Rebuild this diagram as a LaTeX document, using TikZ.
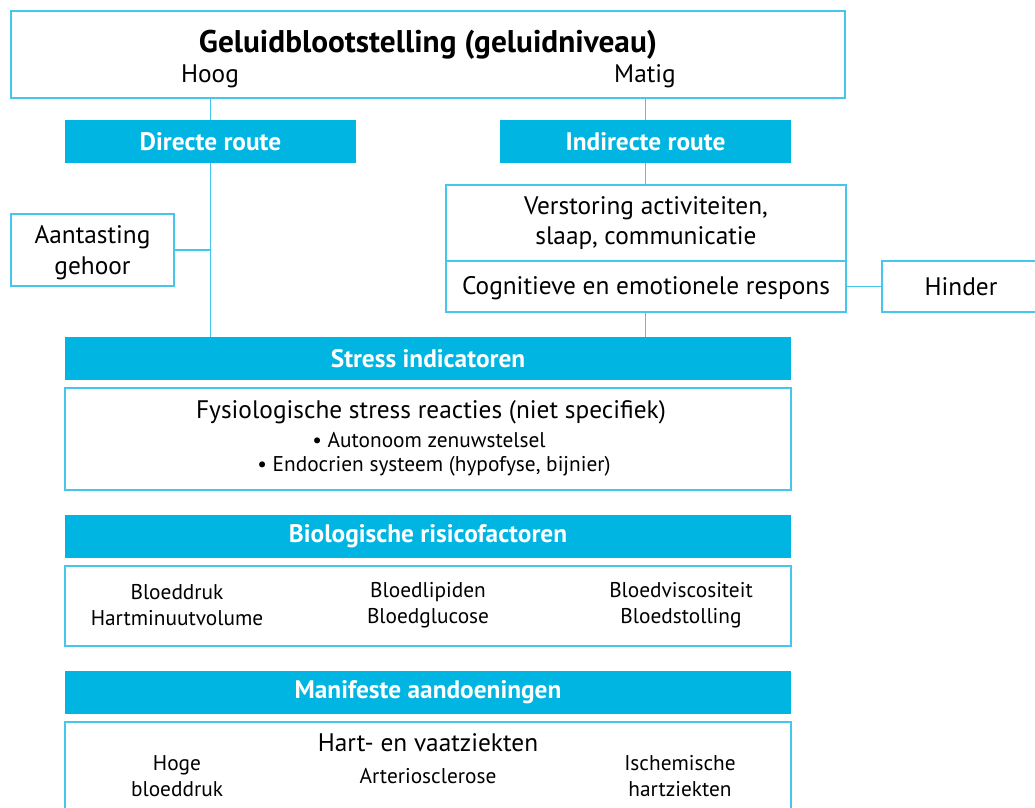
\documentclass[tikz,border=0pt]{standalone}
\usepackage{fontspec}
\setmainfont{PT Sans}
\definecolor{cyanfill}{RGB}{0,181,226}
\definecolor{cyanline}{RGB}{70,198,236}
\begin{document}
\begin{tikzpicture}[x=0.75pt,y=-0.75pt,
  box/.style={draw=cyanline,line width=1.2pt,fill=white,inner sep=0pt,outer sep=0pt,align=center,font=\fontsize{19}{23}\selectfont},
  head/.style={fill=cyanfill,text=white,inner sep=0pt,outer sep=0pt,align=center,font=\bfseries\fontsize{19}{22}\selectfont},
  conn/.style={draw=cyanline,line width=1.2pt},
  txt/.style={inner sep=0pt,align=center,font=\fontsize{19}{23}\selectfont},
  small/.style={inner sep=0pt,align=center,font=\fontsize{16}{19.5}\selectfont}]
\useasboundingbox (0,0) rectangle (1035,807);
\clip (0,0) rectangle (1035,807);
% top box
\node[box,minimum width=625.5pt,minimum height=65.25pt] (top) at (428,54.5) {};
\node[txt,font=\bfseries\fontsize{23.5}{26}\selectfont] (title) at (428,44.5) {Geluidblootstelling (geluidniveau)};
\node[txt] (hoog) at (210,76.5) {Hoog};
\node[txt] (matig) at (645,76.5) {Matig};
% routes
\node[head,minimum width=218.25pt,minimum height=32.25pt] (direct) at (210.5,141.5) {Directe route};
\node[head,minimum width=218.25pt,minimum height=32.25pt] (indirect) at (645.5,141.5) {Indirecte route};
% side boxes
\node[box,minimum width=122.25pt,minimum height=54pt] (aant) at (92.5,250) {};
\node[txt] (aanttxt) at (92.5,253) {Aantasting\\gehoor};
\node[box,minimum width=300pt,minimum height=57pt] (verst) at (646,223) {Verstoring activiteiten,\\slaap, communicatie};
\node[box,minimum width=300pt,minimum height=38.25pt] (cogn) at (646,286.5) {};
\node[txt] (cogntxt) at (646,288) {Cognitieve en emotionele respons};
\node[box,minimum width=118.5pt,minimum height=38.25pt] (hinder) at (961,286.5) {Hinder};
% stress
\node[head,minimum width=544.5pt,minimum height=32.25pt] (stress) at (428,358.5) {Stress indicatoren};
\node[box,minimum width=544.5pt,minimum height=76.5pt] (fys) at (428,439) {};
\node[txt] (fys1) at (431,412) {Fysiologische stress reacties (niet specifiek)};
\node[small] (fys2) at (429,440) {\textbullet\ Autonoom zenuwstelsel};
\node[small] (fys3) at (434,466) {\textbullet\ Endocrien systeem (hypofyse, bijnier)};
% bio
\node[head,minimum width=544.5pt,minimum height=32.25pt] (bio) at (428,536.5) {Biologische risicofactoren};
\node[box,minimum width=544.5pt,minimum height=60pt] (biobox) at (428,606) {};
\node[small] (b1) at (177,605) {Bloeddruk\\Hartminuutvolume};
\node[small] (b2) at (428,605) {Bloedlipiden\\Bloedglucose};
\node[small] (b3) at (681,605) {Bloedviscositeit\\Bloedstolling};
% manifest
\node[head,minimum width=544.5pt,minimum height=32.25pt] (man) at (428,692.5) {Manifeste aandoeningen};
\node[box,minimum width=544.5pt,minimum height=81pt] (manbox) at (428,776) {};
\node[txt] (m0) at (428,743) {Hart- en vaatziekten};
\node[small] (m1) at (177,776) {Hoge\\bloeddruk};
\node[small] (m2) at (428,776) {Arteriosclerose};
\node[small] (m3) at (680,776) {Ischemische\\hartziekten};
% connectors
\draw[conn] (direct.north) -- (direct.north |- top.south);
\draw[conn] (indirect.north) -- (indirect.north |- top.south);
\draw[conn] (direct.south) -- (direct.south |- stress.north);
\draw[conn] (aant.east) -- (aant.east -| direct.south);
\draw[conn] (indirect.south) -- (indirect.south |- verst.north);
\draw[conn] (cogn.east) -- (hinder.west);
\draw[conn] (indirect.south |- cogn.south) -- (indirect.south |- stress.north);
\end{tikzpicture}
\end{document}
